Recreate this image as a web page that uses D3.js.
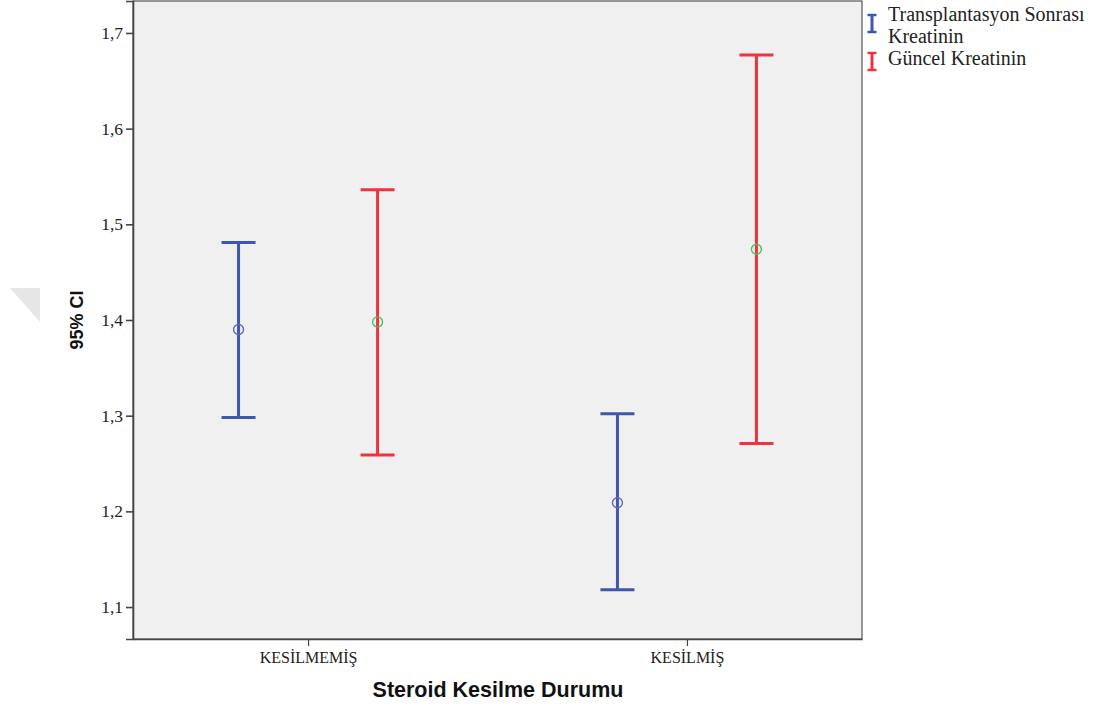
<!DOCTYPE html>
<html>
<head>
<meta charset="utf-8">
<script src="https://cdn.jsdelivr.net/npm/d3@7"></script>
<style>
  body { margin: 0; background: #fff; }
  svg { display: block; }
</style>
</head>
<body>
<div id="container"></div>
<script>
const width = 1108;
const height = 711;
const margin = {top: 1, right: 246, bottom: 72, left: 133};

// data
const groups = ['KESİLMEMİŞ', 'KESİLMİŞ'];
const seriesNames = ['Transplantasyon Sonrası Kreatinin', 'Güncel Kreatinin'];
const postMean = [1.390, 1.209];
const postLow = [1.298, 1.118];
const postHigh = [1.481, 1.302];
const curMean = [1.398, 1.474];
const curLow = [1.259, 1.271];
const curHigh = [1.536, 1.677];
const yTicks = [1.1, 1.2, 1.3, 1.4, 1.5, 1.6, 1.7];

const colors = ['#3f57ad', '#ee3340'];
const meanColors = ['#5a6cc0', '#52bb5a'];

const series = [
  {name: seriesNames[0], mean: postMean, low: postLow, high: postHigh},
  {name: seriesNames[1], mean: curMean, low: curLow, high: curHigh}
];

const svg = d3.select('#container')
  .append('svg')
  .attr('width', width)
  .attr('height', height);

// faint watermark triangle on the left
svg.append('path')
  .attr('d', 'M10,288 L40,288 L40,322 Z')
  .attr('fill', '#e6e6e6');

const x0 = d3.scalePoint()
  .domain(groups)
  .range([margin.left, width - margin.right])
  .padding(0.462);

const x1 = d3.scalePoint()
  .domain(seriesNames)
  .range([-69.5, 69.5]);

const y = d3.scaleLinear()
  .domain([1.0666, 1.7334])
  .range([height - margin.bottom, margin.top]);

const plotW = width - margin.left - margin.right;
const plotH = height - margin.bottom - margin.top;

svg.append('rect')
  .attr('x', margin.left)
  .attr('y', margin.top)
  .attr('width', plotW)
  .attr('height', plotH)
  .attr('fill', '#f0f0f0')
  .attr('stroke', '#555')
  .attr('stroke-width', 1.2);

const comma = d3.format('.1f');

const yAxis = svg.append('g')
  .attr('transform', 'translate(' + margin.left + ',0)')
  .call(d3.axisLeft(y).tickValues(yTicks).tickSize(7).tickFormat(d => comma(d).replace('.', ',')));
yAxis.select('.domain').attr('stroke', '#444').attr('stroke-width', 1.6);
yAxis.selectAll('.tick line').attr('stroke', '#444').attr('stroke-width', 1.6);
yAxis.selectAll('.tick text')
  .attr('font-family', 'Liberation Serif, serif')
  .attr('font-size', 17.5)
  .attr('fill', '#222')
  .attr('x', -10);

const xAxis = svg.append('g')
  .attr('transform', 'translate(0,' + (height - margin.bottom) + ')')
  .call(d3.axisBottom(x0).tickSize(7).tickSizeOuter(0));
xAxis.select('.domain').attr('stroke', '#444').attr('stroke-width', 1.6);
xAxis.selectAll('.tick line').attr('stroke', '#444').attr('stroke-width', 1.2);
xAxis.selectAll('.tick text')
  .attr('font-family', 'Liberation Serif, serif')
  .attr('font-size', 16)
  .attr('fill', '#222')
  .attr('dy', null)
  .attr('y', 24);

// error bars
const capW = 34;
series.forEach((s, si) => {
  const g = svg.append('g');
  groups.forEach((grp, gi) => {
    const cx = x0(grp) + x1(s.name);
    g.append('line')
      .attr('x1', cx).attr('x2', cx)
      .attr('y1', y(s.high[gi])).attr('y2', y(s.low[gi]))
      .attr('stroke', colors[si]).attr('stroke-width', 3);
    [s.high[gi], s.low[gi]].forEach(v => {
      g.append('line')
        .attr('x1', cx - capW / 2).attr('x2', cx + capW / 2)
        .attr('y1', y(v)).attr('y2', y(v))
        .attr('stroke', colors[si]).attr('stroke-width', 3);
    });
    g.append('circle')
      .attr('cx', cx).attr('cy', y(s.mean[gi]))
      .attr('r', 5)
      .attr('fill', 'none')
      .attr('stroke', meanColors[si])
      .attr('stroke-width', 1.4);
  });
});

// axis titles
svg.append('text')
  .attr('x', 498)
  .attr('y', 697)
  .attr('text-anchor', 'middle')
  .attr('font-family', 'Liberation Sans, Arial, sans-serif')
  .attr('font-weight', 'bold')
  .attr('font-size', 21.5)
  .attr('fill', '#111')
  .text('Steroid Kesilme Durumu');

svg.append('text')
  .attr('transform', 'translate(83,' + (margin.top + plotH / 2) + ') rotate(-90)')
  .attr('text-anchor', 'middle')
  .attr('font-family', 'Liberation Sans, Arial, sans-serif')
  .attr('font-weight', 'bold')
  .attr('font-size', 18)
  .attr('fill', '#111')
  .text('95% CI');

// legend
const legend = svg.append('g').attr('transform', 'translate(872,0)');
const legendLines = [['Transplantasyon Sonrası', 'Kreatinin'], ['Güncel Kreatinin']];
const legendY = [21, 65];
const iconTop = [15, 53];
legendLines.forEach((lines, i) => {
  const top = iconTop[i];
  const item = legend.append('g');
  item.append('line').attr('x1', 0).attr('x2', 0).attr('y1', top).attr('y2', top + 17)
    .attr('stroke', colors[i]).attr('stroke-width', 3);
  [top, top + 17].forEach(yy => {
    item.append('line').attr('x1', -4.5).attr('x2', 4.5).attr('y1', yy).attr('y2', yy)
      .attr('stroke', colors[i]).attr('stroke-width', 2.5);
  });
  lines.forEach((t, li) => {
    item.append('text')
      .attr('x', 16)
      .attr('y', legendY[i] + li * 22)
      .attr('font-family', 'Liberation Serif, serif')
      .attr('font-size', 20)
      .attr('fill', '#222')
      .text(t);
  });
});
</script>
</body>
</html>
